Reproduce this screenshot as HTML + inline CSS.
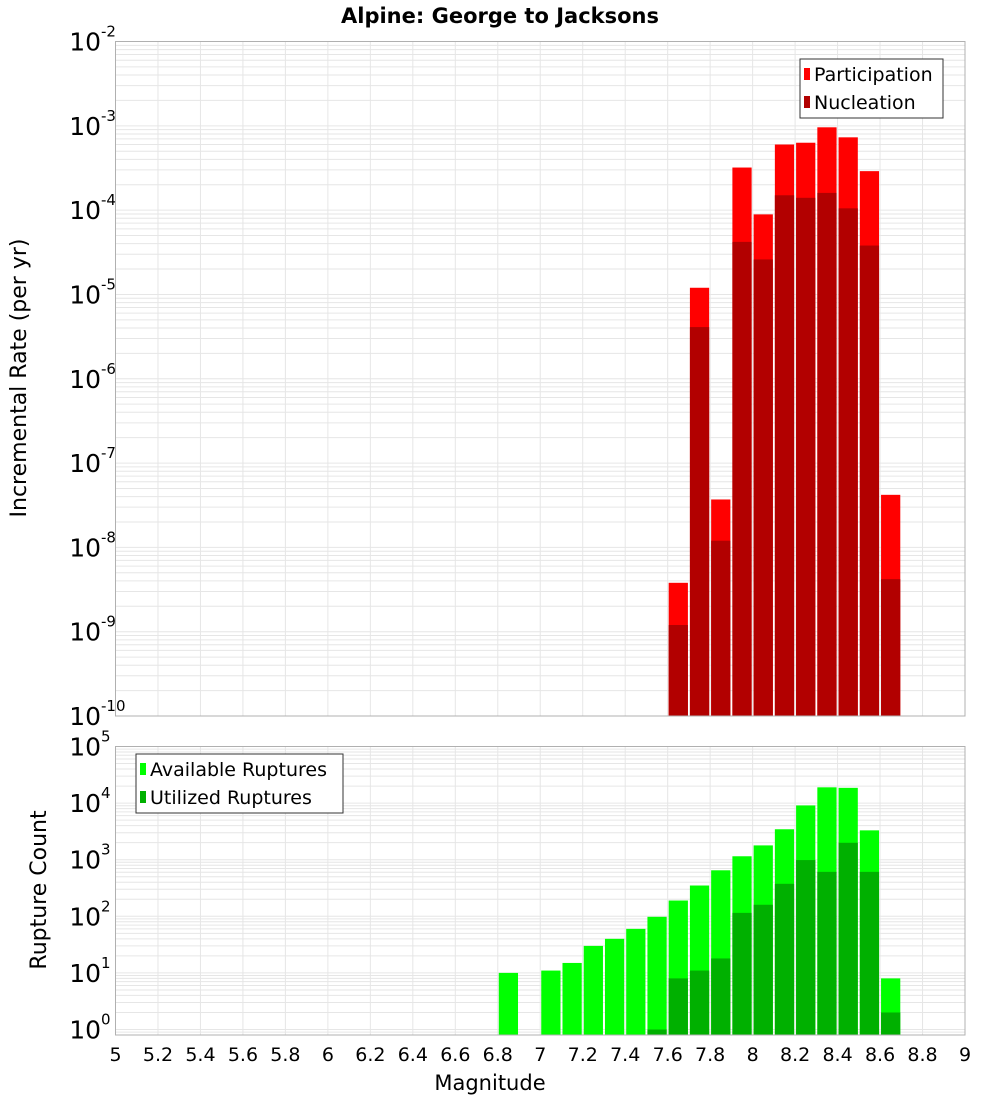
<!DOCTYPE html>
<html><head><meta charset="utf-8"><style>
body{margin:0;background:#fff;font-family:"Liberation Sans","DejaVu Sans",sans-serif}
svg text{font-family:"DejaVu Sans","Liberation Sans",sans-serif}
</style></head><body>
<svg id="chart" width="1000" height="1100" xmlns="http://www.w3.org/2000/svg">
<text x="500" y="23" text-anchor="middle" font-size="21" font-weight="bold">Alpine: George to Jacksons</text>
<g id="top"></g><g id="bot"></g>
<text x="490" y="1090" text-anchor="middle" font-size="21">Magnitude</text>
<text transform="translate(26,378) rotate(-90)" text-anchor="middle" font-size="22">Incremental Rate (per yr)</text>
<text transform="translate(46,890) rotate(-90)" text-anchor="middle" font-size="22">Rupture Count</text>
</svg>
<script>
const rateBins=[7.6,7.7,7.8,7.9,8.0,8.1,8.2,8.3,8.4,8.5,8.6];
const participation=[3.8e-9,1.2e-5,3.7e-8,3.2e-4,8.9e-5,6.0e-4,6.3e-4,9.6e-4,7.3e-4,2.9e-4,4.2e-8];
const nucleation=[1.2e-9,4.1e-6,1.2e-8,4.2e-5,2.6e-5,1.5e-4,1.4e-4,1.6e-4,1.05e-4,3.8e-5,4.2e-9];
const countBins=[6.8,7.0,7.1,7.2,7.3,7.4,7.5,7.6,7.7,7.8,7.9,8.0,8.1,8.2,8.3,8.4,8.5,8.6];
const available=[10,11,15,30,40,60,98,190,350,650,1150,1790,3450,9100,19000,18600,3300,8];
const utilized=[0,0,0,0,0,0,1,8,11,18,115,160,375,985,610,1990,610,2];
const xTicks=[5,5.2,5.4,5.6,5.8,6,6.2,6.4,6.6,6.8,7,7.2,7.4,7.6,7.8,8,8.2,8.4,8.6,8.8,9];
const NS='http://www.w3.org/2000/svg';
const L=115.5,R=965;
const X=m=>L+(m-5)/4*(R-L);
function mk(p,t,a){const e=document.createElementNS(NS,t);for(const k in a)e.setAttribute(k,a[k]);p.appendChild(e);return e;}
function panel(g,top,bot,lmin,lmax,axMin,name){
  const Y=v=>top+(lmax-Math.log10(v))/(lmax-axMin)*(bot-top);
  mk(g,'rect',{x:L,y:top,width:R-L,height:bot-top,fill:'#fff'});
  for(let d=Math.floor(axMin);d<lmax;d++)for(let k=1;k<10;k++){const v=k*Math.pow(10,d);if(Math.log10(v)<axMin)continue;const y=Y(v);
    const ln=mk(g,'line',{x1:L,x2:R,y1:y,y2:y,stroke:'#e6e6e6','stroke-width':1});
    
    }
  xTicks.forEach(t=>{const ln=mk(g,'line',{x1:X(t),x2:X(t),y1:top,y2:bot,stroke:'#e6e6e6'});
    
    });
  for(let d=lmin;d<=lmax;d++){const y=Y(Math.pow(10,d));
    const t=mk(g,'text',{x:101,y:y+9,'text-anchor':'end','font-size':25});t.textContent='10';
    
    
    const s=mk(g,'text',{x:101,y:y-5,'font-size':15});s.textContent=String(d);
    
    }
  return Y;
}
function bars(g,Y,bins,vals,fill,bot,name){
  bins.forEach((b,i)=>{const v=vals[i];if(!(v>0))return;const x0=X(b)+1,x1=X(b+0.1)-1,y=Math.max(Y(v),0);
    const r=mk(g,'rect',{x:x0,y:y,width:x1-x0,height:bot-y,fill:fill});
    
    });
}
function frame(g,top,bot,name){const r=mk(g,'rect',{x:L,y:top,width:R-L,height:bot-top,fill:'none',stroke:'#b0b0b0'});
  
  }
function legend(g,x,y,w,items,name){const r=mk(g,'rect',{x:x,y:y,width:w,height:59,fill:'#fff',stroke:'#333'});
  
  
  items.forEach((it,i)=>{const cy=y+15+i*28;
    const s=mk(g,'rect',{x:x+4,y:cy-6,width:6,height:12,fill:it[1]});
    
    
    const t=mk(g,'text',{x:x+14,y:cy+7,'font-size':19});t.textContent=it[0];
    
    });
}
const gt=document.getElementById('top'),gb=document.getElementById('bot');
const TT=41.5,TB=716,BT=746.5,BB=1035;
const Yt=panel(gt,TT,TB,-10,-2,-10,'top');
bars(gt,Yt,rateBins,participation,'#ff0000',TB,'participation');
bars(gt,Yt,rateBins,nucleation,'#b20000',TB,'nucleation');
frame(gt,TT,TB,'top');
legend(gt,800,59,143,[['Participation','#ff0000'],['Nucleation','#b20000']],'top-legend');
const Yb=panel(gb,BT,BB,0,5,-0.097,'bottom');
bars(gb,Yb,countBins,available,'#00ff00',BB,'available');
bars(gb,Yb,countBins,utilized,'#00b000',BB,'utilized');
frame(gb,BT,BB,'bottom');
legend(gb,136,754,207,[['Available Ruptures','#00ff00'],['Utilized Ruptures','#00b000']],'bottom-legend');
xTicks.forEach(t=>{const e=mk(gb,'text',{x:X(t),y:1061,'text-anchor':'middle','font-size':19});e.textContent=String(t);
  
  });
</script>
</body></html>
